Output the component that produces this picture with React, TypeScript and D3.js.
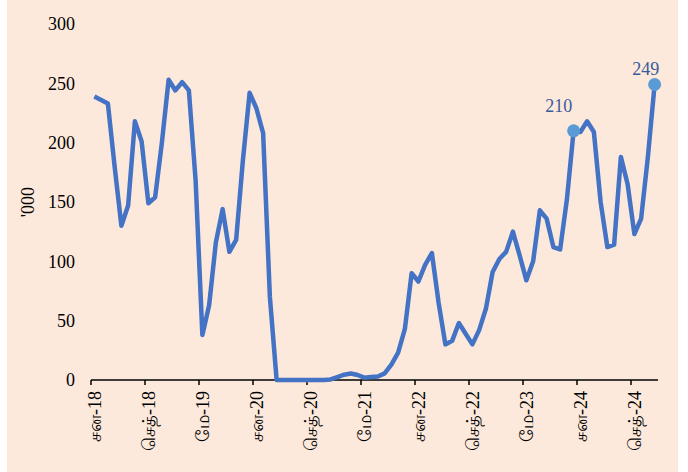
import * as d3 from "d3";

// monthly values, Jan-18 .. Dec-24 ('000)
const values = [
  239, 236, 233, 180, 130, 147, 218, 201, 149, 154, 200, 253,
  244, 251, 244, 168, 38, 63, 116, 144, 108, 118, 185, 242,
  229, 208, 70, 0, 0, 0, 0, 0, 0, 0, 0, 0.5,
  2.5, 4.5, 5.5, 4.2, 2, 2.5, 3, 5.6, 13, 23, 43, 90,
  83, 97, 107, 65, 30, 33, 48, 39, 30, 42, 60, 91,
  102, 108, 125, 105, 84, 100, 143, 136, 112, 110, 152, 210,
  209, 218, 209, 150, 112, 114, 188, 165, 123, 136, 188, 249,
];

const months = d3
  .timeMonth.range(new Date(2018, 0, 1), new Date(2025, 0, 1))
  .map((d) => d3.timeFormat("%Y-%m")(d));

// every 8th month gets a label
const tickLabels = [
  "சன-18", "செத்-18", "மே-19", "சன-20", "செத்-20", "மே-21",
  "சன-22", "செத்-22", "மே-23", "சன-24", "செத்-24",
];

const yTicks = [0, 50, 100, 150, 200, 250, 300];

// points that carry a data label
const labelled = [
  { month: "2023-12", dx: -15, dy: -19 },
  { month: "2024-12", dx: -9, dy: -10 },
];

const width = 688;
const height = 472;
const margin = { left: 91, right: 30, top: 24, bottom: 92 };
const font = "'Times New Roman', 'Liberation Serif', serif";

const App = () => {
  const x = d3
    .scaleBand()
    .domain(months)
    .range([margin.left, width - margin.right])
    .padding(0);
  const y = d3
    .scaleLinear()
    .domain([0, 300])
    .range([height - margin.bottom, margin.top]);

  const cx = (m) => x(m) + x.bandwidth() / 2;
  const data = months.map((m, i) => ({ m, v: values[i] }));

  const line = d3
    .line()
    .x((d) => cx(d.m))
    .y((d) => y(d.v));

  const tickMonths = months.filter((_, i) => i % 8 === 0);

  return (
    <div style={{ position: "absolute", left: 0, top: 0 }}>
      <svg width={width} height={height} style={{ display: "block" }}>
        <rect x={7} y={0} width={671} height={height} fill="#FCE9DB" />

        {/* y axis labels */}
        {yTicks.map((t) => (
          <text
            key={t}
            x={75}
            y={y(t)}
            dy="0.35em"
            textAnchor="end"
            fontFamily={font}
            fontSize={18}
            fill="#000"
          >
            {t}
          </text>
        ))}
        <text
          transform={`translate(28, 202) rotate(-90)`}
          textAnchor="middle"
          dy="0.35em"
          fontFamily={font}
          fontSize={18}
          fill="#000"
        >
          '000
        </text>

        {/* x axis */}
        <line
          x1={x.range()[0]}
          x2={x.range()[1]}
          y1={y(0)}
          y2={y(0)}
          stroke="#000"
          strokeWidth={1.5}
        />
        {tickMonths.map((m, i) => (
          <g key={m}>
            <line
              x1={x(m)}
              x2={x(m)}
              y1={y(0)}
              y2={y(0) + 5}
              stroke="#000"
              strokeWidth={1.5}
            />
            <text
              transform={`translate(${cx(m)}, ${y(0) + 11}) rotate(-90)`}
              textAnchor="end"
              dy="0.35em"
              fontFamily={font}
              fontSize={18}
              fill="#000"
            >
              {tickLabels[i]}
            </text>
          </g>
        ))}

        <path
          d={line(data)}
          fill="none"
          stroke="#4472C4"
          strokeWidth={4.5}
          strokeLinejoin="round"
        />

        {labelled.map((l) => {
          const d = data.find((p) => p.m === l.month);
          return (
            <g key={l.month}>
              <circle cx={cx(d.m)} cy={y(d.v)} r={6.5} fill="#5B9BD5" />
              <text
                x={cx(d.m) + l.dx}
                y={y(d.v) + l.dy}
                textAnchor="middle"
                fontFamily={font}
                fontSize={18}
                fill="#3B5A9A"
              >
                {Math.round(d.v)}
              </text>
            </g>
          );
        })}
      </svg>
    </div>
  );
};

export default App;
